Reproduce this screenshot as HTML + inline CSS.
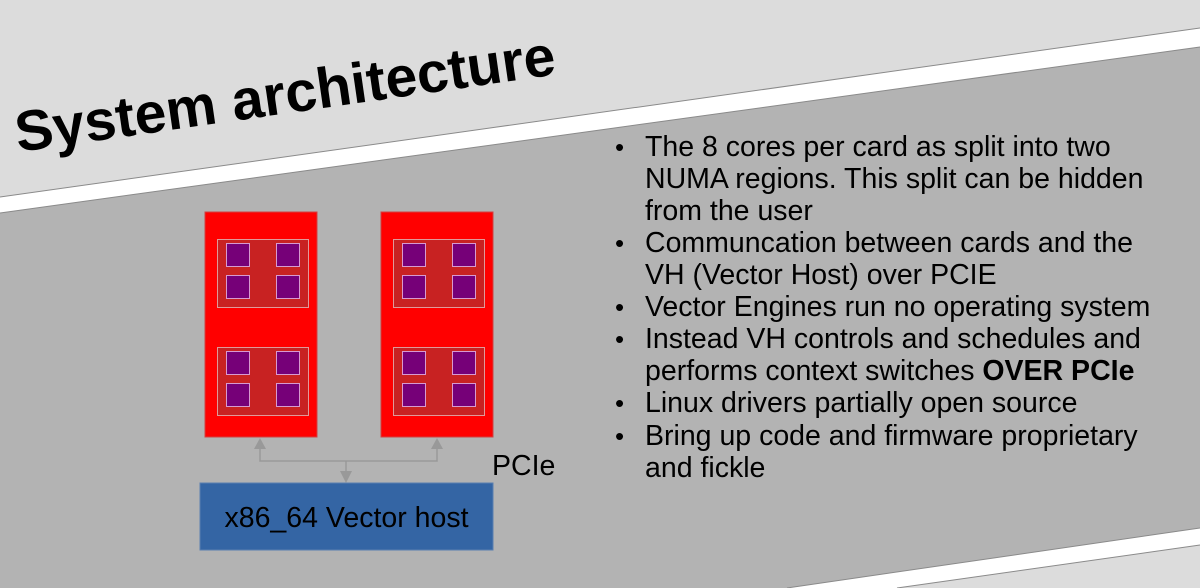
<!DOCTYPE html>
<html><head><meta charset="utf-8"><style>
html,body{margin:0;padding:0;width:1200px;height:588px;overflow:hidden;background:#dcdcdc}
svg{display:block}
</style></head><body>
<svg width="1200" height="588" viewBox="0 0 1200 588" xmlns="http://www.w3.org/2000/svg" font-family="Liberation Sans, sans-serif">
<rect width="1200" height="588" fill="#dcdcdc"/>
<polygon points="0,197 1200,28 1200,588 0,588" fill="#ffffff"/>
<line x1="0" y1="197" x2="1200" y2="28" stroke="#8a8a8a" stroke-width="1"/>
<polygon points="0,213 1200,47 1200,528 787,588 0,588" fill="#b3b3b3"/>
<line x1="0" y1="213" x2="1200" y2="47" stroke="#8a8a8a" stroke-width="1"/>
<polygon points="787,588 1200,528 1200,545 897,588" fill="#ffffff"/>
<line x1="787" y1="588" x2="1200" y2="528" stroke="#8a8a8a" stroke-width="1"/>
<polygon points="897,588 1200,545 1200,588" fill="#dcdcdc"/>
<line x1="897" y1="588" x2="1200" y2="545" stroke="#8a8a8a" stroke-width="1"/>

<text x="18" y="152" transform="rotate(-8.2 18 152)" font-size="57" font-weight="bold" fill="#000">System architecture</text>

<g>
<rect x="205" y="212" width="112" height="225" fill="#ff0000" stroke="#d04040" stroke-width="1"/>
<rect x="381" y="212" width="112" height="225" fill="#ff0000" stroke="#d04040" stroke-width="1"/>
<g fill="#c82222" stroke="#e09a9a" stroke-width="1">
<rect x="217.5" y="239.5" width="91" height="68"/>
<rect x="217.5" y="347.5" width="91" height="68"/>
<rect x="393.5" y="239.5" width="91" height="68"/>
<rect x="393.5" y="347.5" width="91" height="68"/>
</g>
<g fill="#760078" stroke="#d89ad0" stroke-width="1">
<rect x="226.5" y="243.5" width="23" height="23"/><rect x="276.5" y="243.5" width="23" height="23"/>
<rect x="226.5" y="275.5" width="23" height="23"/><rect x="276.5" y="275.5" width="23" height="23"/>
<rect x="226.5" y="351.5" width="23" height="23"/><rect x="276.5" y="351.5" width="23" height="23"/>
<rect x="226.5" y="383.5" width="23" height="23"/><rect x="276.5" y="383.5" width="23" height="23"/>
<rect x="402.5" y="243.5" width="23" height="23"/><rect x="452.5" y="243.5" width="23" height="23"/>
<rect x="402.5" y="275.5" width="23" height="23"/><rect x="452.5" y="275.5" width="23" height="23"/>
<rect x="402.5" y="351.5" width="23" height="23"/><rect x="452.5" y="351.5" width="23" height="23"/>
<rect x="402.5" y="383.5" width="23" height="23"/><rect x="452.5" y="383.5" width="23" height="23"/>
</g>
</g>
<g stroke="#999" stroke-width="1.5" fill="none">
<polyline points="260,448 260,461 437,461 437,448"/>
<line x1="346" y1="461" x2="346" y2="472"/>
</g>
<g fill="#999">
<polygon points="260,438 254,449 266,449"/>
<polygon points="437,438 431,449 443,449"/>
<polygon points="346,483 340,471 352,471"/>
</g>
<text x="492" y="475" font-size="28.5" fill="#000">PCIe</text>
<rect x="200" y="483" width="293" height="67" fill="#3465a4" stroke="#5a7fb0" stroke-width="1"/>
<text x="346.5" y="527" font-size="28.5" fill="#000" text-anchor="middle">x86_64 Vector host</text>

<g font-size="28.5" fill="#000">
<g font-size="26"><text x="615" y="156">•</text><text x="615" y="252">•</text><text x="615" y="316">•</text><text x="615" y="348">•</text><text x="615" y="412">•</text><text x="615" y="445">•</text></g>
<text x="645" y="156">The 8 cores per card as split into two</text>
<text x="645" y="188">NUMA regions. This split can be hidden</text>
<text x="645" y="220">from the user</text>
<text x="645" y="252">Communcation between cards and the</text>
<text x="645" y="284">VH (Vector Host) over PCIE</text>
<text x="645" y="316">Vector Engines run no operating system</text>
<text x="645" y="348">Instead VH controls and schedules and</text>
<text x="645" y="380">performs context switches <tspan font-weight="bold">OVER PCIe</tspan></text>
<text x="645" y="412">Linux drivers partially open source</text>
<text x="645" y="445">Bring up code and firmware proprietary</text>
<text x="645" y="477">and fickle</text>
</g>
</svg>
</body></html>
